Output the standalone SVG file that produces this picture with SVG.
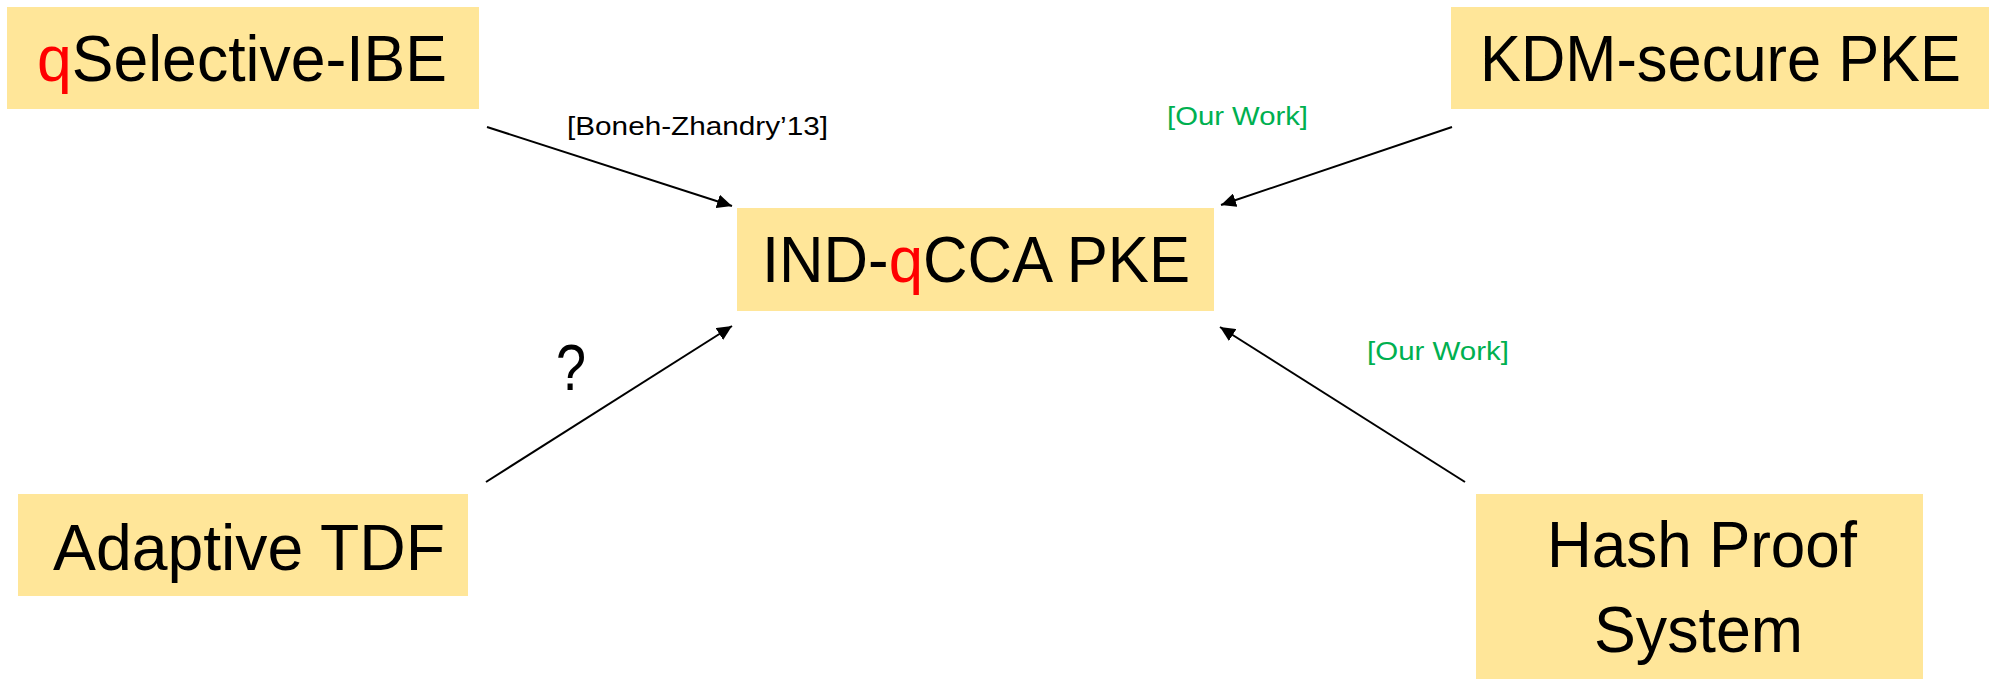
<svg xmlns="http://www.w3.org/2000/svg" width="1992" height="679" viewBox="0 0 1992 679">
  <style>
    .box { fill: #FFE699; }
    .label { font-family: "Liberation Sans", Arial, sans-serif; font-size: 64px; fill: #000000; }
    .q { fill: #FF0000; }
    .cite { font-family: "Liberation Sans", Arial, sans-serif; font-size: 26px; fill: #000000; }
    .ours { font-family: "Liberation Sans", Arial, sans-serif; font-size: 26px; fill: #00B050; }
    .edge { stroke: #000000; stroke-width: 2; fill: none; marker-end: url(#arrow); }
  </style>
  <defs>
    <marker id="arrow" markerUnits="userSpaceOnUse" markerWidth="16" markerHeight="14" refX="15" refY="7" orient="auto">
      <path d="M0,0 L15,7 L0,14 Z" fill="#000000"/>
    </marker>
  </defs>

  <rect x="0" y="0" width="1992" height="679" fill="#FFFFFF"/>

  <!-- nodes -->
  <g id="qselective-ibe">
    <rect class="box" x="7" y="7" width="472" height="102"/>
    <text class="label" x="37" y="81" textLength="410" lengthAdjust="spacingAndGlyphs"><tspan class="q">q</tspan>Selective-IBE</text>
  </g>
  <g id="kdm-secure-pke">
    <rect class="box" x="1451" y="7" width="538" height="102"/>
    <text class="label" x="1480" y="81" textLength="481" lengthAdjust="spacingAndGlyphs">KDM-secure PKE</text>
  </g>
  <g id="ind-qcca-pke">
    <rect class="box" x="737" y="208" width="477" height="103"/>
    <text class="label" x="762" y="282" textLength="428" lengthAdjust="spacingAndGlyphs">IND-<tspan class="q">q</tspan>CCA PKE</text>
  </g>
  <g id="adaptive-tdf">
    <rect class="box" x="18" y="494" width="450" height="102"/>
    <text class="label" x="53" y="570" textLength="392" lengthAdjust="spacingAndGlyphs">Adaptive TDF</text>
  </g>
  <g id="hash-proof-system">
    <rect class="box" x="1476" y="494" width="447" height="185"/>
    <text class="label" x="1547" y="567" textLength="310" lengthAdjust="spacingAndGlyphs">Hash Proof</text>
    <text class="label" x="1594" y="652" textLength="209" lengthAdjust="spacingAndGlyphs">System</text>
  </g>

  <!-- connectors -->
  <g id="connectors">
    <line class="edge" x1="487" y1="127" x2="732" y2="206"/>
    <line class="edge" x1="1452" y1="127" x2="1221" y2="205"/>
    <line class="edge" x1="486" y1="482" x2="732" y2="326"/>
    <line class="edge" x1="1465" y1="482" x2="1220" y2="327"/>
    <text class="cite" x="567" y="135" textLength="261" lengthAdjust="spacingAndGlyphs">[Boneh-Zhandry’13]</text>
    <text class="ours" x="1167" y="125" textLength="141" lengthAdjust="spacingAndGlyphs">[Our Work]</text>
    <text class="ours" x="1367" y="360" textLength="142" lengthAdjust="spacingAndGlyphs">[Our Work]</text>
    <text class="label" x="556" y="390" font-size="58" textLength="30" lengthAdjust="spacingAndGlyphs">?</text>
  </g>
</svg>
